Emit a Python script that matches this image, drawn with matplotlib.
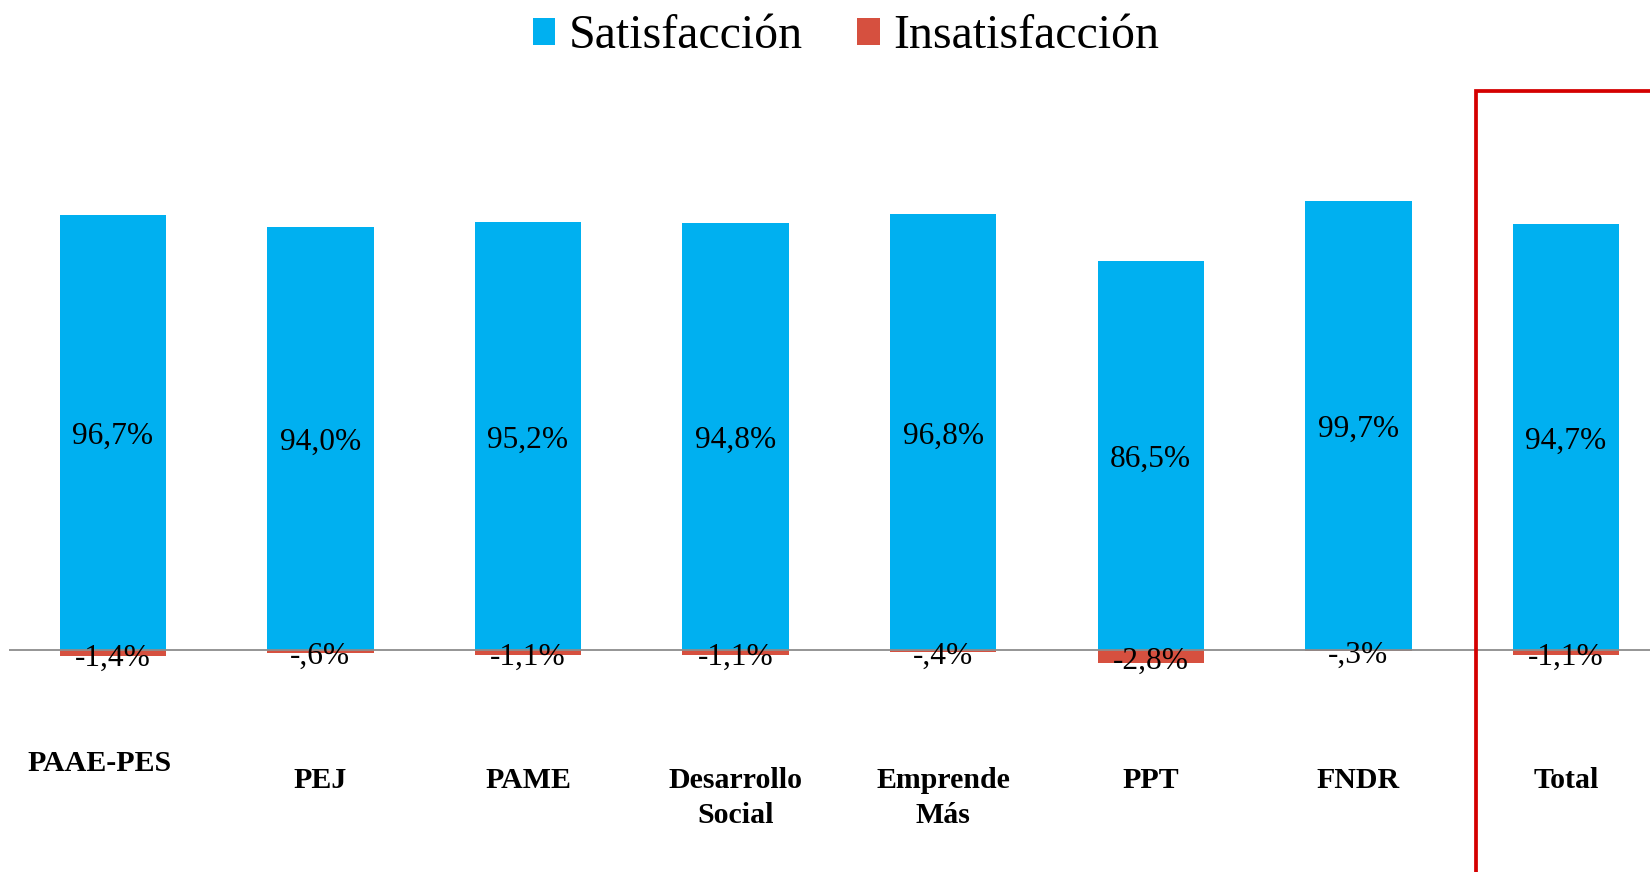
import numpy as np
import matplotlib
matplotlib.use('Agg')
import matplotlib.pyplot as plt
from matplotlib.lines import Line2D
import matplotlib.transforms as mtransforms

plt.rcParams['font.family'] = ['Liberation Serif', 'DejaVu Serif']

programas = ['PAAE-PES', 'PEJ', 'PAME', 'Desarrollo\nSocial', 'Emprende\nMás', 'PPT', 'FNDR', 'Total']
satisf = [96.7, 94.0, 95.2, 94.8, 96.8, 86.5, 99.7, 94.7]
insatisf = [-1.4, -0.6, -1.1, -1.1, -0.4, -2.8, -0.3, -1.1]

azul = '#00B0F0'
rojo = '#D6503F'

def fmt(v):
	s = f"{v:.1f}".replace('.', ',')
	if s.startswith('-0'):
		s = '-' + s[2:]
	return s + '%'

fig = plt.figure(figsize=(16.5, 8.72), dpi=100)
W, H = 1650, 872
ax_top, ax_bot = 0, 748
ax = fig.add_axes([9/W, (H-ax_bot)/H, (W-9)/W, (ax_bot-ax_top)/H])
esc = 4.5  # px por punto porcentual
ymin = -(ax_bot-650)/esc
ax.set_ylim(ymin, ymin + (ax_bot-ax_top)/esc)
ax.set_xlim(-0.5, -0.5 + (W-9)/207.6)

x = np.arange(len(programas))
b1 = ax.bar(x, satisf, width=0.513, color=azul, label='Satisfacción', zorder=2)
b2 = ax.bar(x, insatisf, width=0.513, color=rojo, label='Insatisfacción', zorder=2)
ax.axhline(0, color='#8c8c8c', lw=1.3, zorder=3)

for i in range(len(programas)):
	ax.text(x[i], satisf[i]/2 - 0.9, fmt(satisf[i]), ha='center', va='center', fontsize=22.6, zorder=4)
	ax.text(x[i], insatisf[i]/2 - 1.1, fmt(insatisf[i]), ha='center', va='center', fontsize=22.6, zorder=4)

for s in ax.spines.values():
	s.set_visible(False)
ax.set_yticks([])
ax.set_xticks(x)
ax.set_xticklabels(programas, fontsize=21.5, fontweight='bold', va='top', linespacing=1.38)
ax.tick_params(axis='x', length=0, pad=13.5)
lab0 = ax.get_xticklabels()[0]
lab0.set_transform(lab0.get_transform() + mtransforms.ScaledTranslation(-13/100, 17/100, fig.dpi_scale_trans))

fig.legend(handles=[b1, b2], loc='center', bbox_to_anchor=(0.5127, 1-36.5/H), ncol=2, frameon=False,
	fontsize=34.5, handlelength=0.47, handleheight=0.47, handletextpad=0.28, columnspacing=1.13)

xr = 1476/W
yr = 1 - 91.5/H
fig.add_artist(Line2D([xr, xr, 1.05], [-0.05, yr, yr], transform=fig.transFigure, color='#D40000', lw=2.7, solid_joinstyle='miter'))

fig.savefig('out.png', dpi=100)
